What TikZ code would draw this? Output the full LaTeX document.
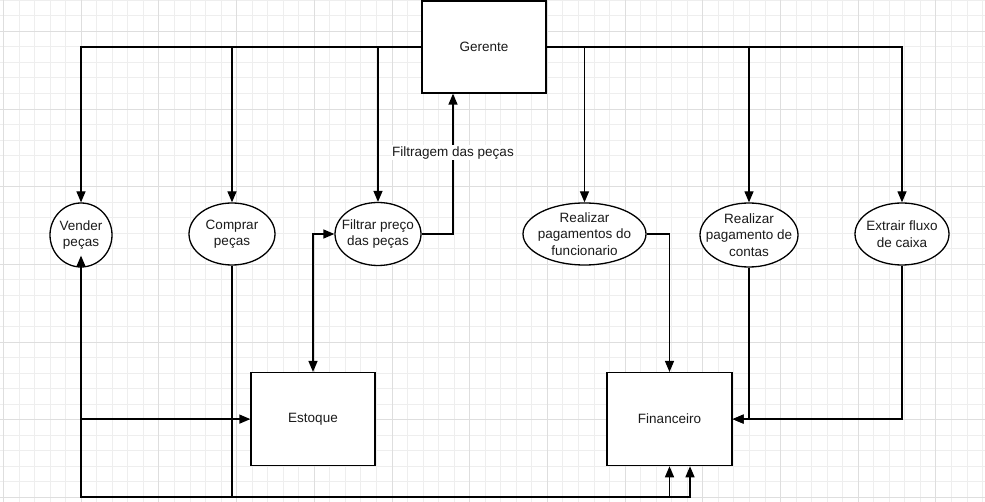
\documentclass[tikz,border=0pt]{standalone}
\usepackage{fontspec}
\setmainfont{Liberation Sans}
\usetikzlibrary{arrows.meta,shapes.geometric}
\definecolor{gridminor}{HTML}{EEEEEE}
\definecolor{gridmajor}{HTML}{DEDEDE}
\definecolor{ink}{HTML}{1A1A1A}
\begin{document}
\begin{tikzpicture}[x=1pt,y=-1pt,
  every node/.style={font=\fontsize{13.5}{16.5}\selectfont, text=ink},
  box/.style={draw=black, line width=1.3pt, fill=white, rectangle, inner sep=0pt},
  proc/.style={draw=black, line width=1.3pt, fill=white, ellipse, inner sep=0pt},
  proctext/.style={label={[align=center, inner sep=0pt]center:#1}},
  flow/.style={draw=black, line width=1.3pt, -{Triangle[length=11pt,width=9pt]}},
  flowboth/.style={draw=black, line width=1.3pt, {Triangle[length=11pt,width=9pt]}-{Triangle[length=11pt,width=9pt]}},
  edgelabel/.style={fill=white, inner sep=1pt}
]
\useasboundingbox (0,0) rectangle (985,502);
\fill[white] (0,0) rectangle (985,502);

% background grid
\foreach \i in {0,...,63} \draw[gridminor, line width=0.9pt] ({3.5+15.54*\i},0) -- ++(0,502);
\foreach \j in {0,...,32} \draw[gridminor, line width=0.9pt] (0,{0.2+15.54*\j}) -- ++(985,0);
\foreach \i in {0,...,12} \draw[gridmajor, line width=0.9pt] ({3.5+77.7*\i},0) -- ++(0,502);
\foreach \j in {0,...,6} \draw[gridmajor, line width=0.9pt] (0,{31.3+77.7*\j}) -- ++(985,0);

% entities
\node[box, minimum width=124pt, minimum height=92pt] (ger) at (484,47) {Gerente};
\node[box, minimum width=124pt, minimum height=93pt] (estq) at (313,419.1) {Estoque};
\node[box, minimum width=125pt, minimum height=93pt] (fin) at (669.5,419.1) {Financeiro};

% processes (text set as centred labels so the ellipse keeps its size)
\node[proc, minimum width=62pt, minimum height=64pt, proctext={Vender\\peças}] (vend) at (81,235) {};
\node[proc, minimum width=86pt, minimum height=62pt, proctext={Comprar\\peças}] (comp) at (232,234) {};
\node[proc, minimum width=86pt, minimum height=63pt, proctext={Filtrar preço\\das peças}] (filt) at (378,234) {};
\node[proc, minimum width=123pt, minimum height=62pt, proctext={Realizar\\pagamentos do\\funcionario}] (rfun) at (584.5,234) {};
\node[proc, minimum width=98pt, minimum height=64pt, proctext={Realizar\\pagamento de\\contas}] (rcon) at (749,235) {};
\node[proc, minimum width=94pt, minimum height=62pt, proctext={Extrair fluxo\\de caixa}] (extr) at (902,234) {};

% bends of the lower return lines
\coordinate (vfin) at (690,497);
\coordinate (cfin) at (669.5,497);

% Gerente to each process
\draw[flow] (ger.west) -| (vend.north);
\draw[flow] (ger.west) -| (comp.north);
\draw[flow] (ger.west) -| (filt.north);
\draw[flow] (ger.east) -| (rfun.north);
\draw[flow] (ger.east) -| (rcon.north);
\draw[flow] (ger.east) -| (extr.north);

% filtering feedback to Gerente
\draw[flow] (filt.east) -| ([xshift=-31pt]ger.south)
  node[edgelabel, pos=0.79] {Filtragem das peças};

% stock links
\draw[flowboth] (estq.north) |- (filt.west);
\draw[flow] (vend.south) |- (estq.west);

% financial links
\draw[flowboth] ([yshift=12pt]vend.south) |- (vfin) -- (vfin |- fin.south);
\draw[flow] (comp.south) |- (cfin) -- (fin.south);
\draw[flow] (rfun.east) -| (fin.north);
\draw[flow] (rcon.south) |- (fin.east);
\draw[flow] (extr.south) |- (fin.east);
\end{tikzpicture}
\end{document}
